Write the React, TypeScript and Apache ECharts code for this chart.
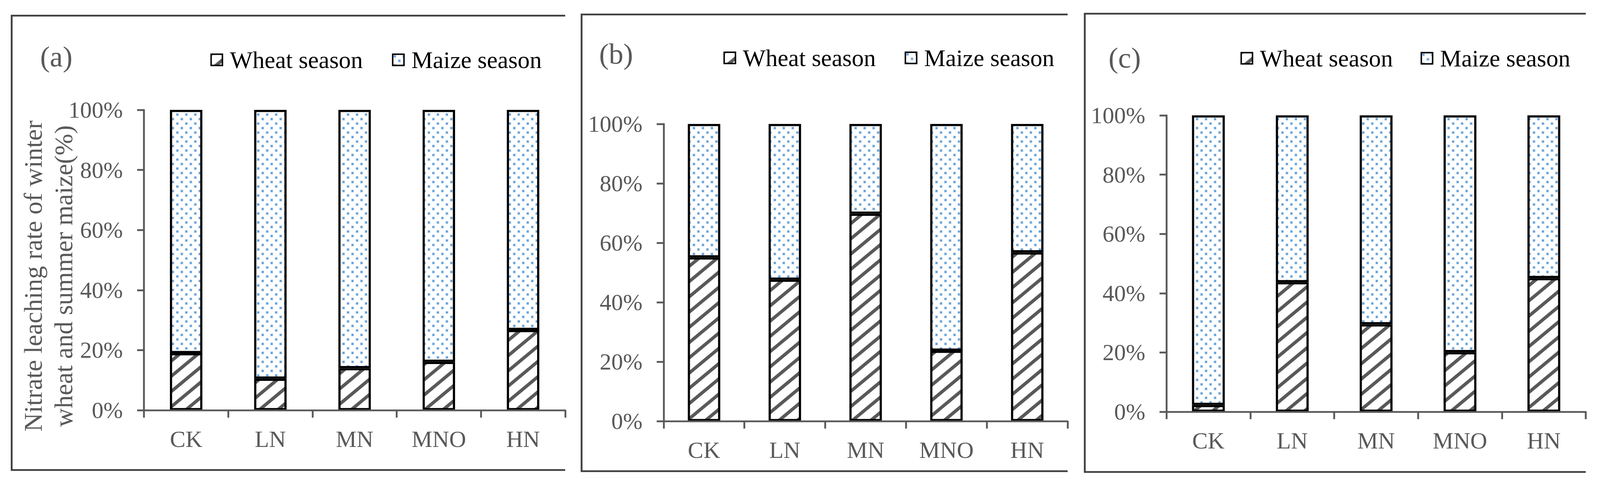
import React, { useEffect, useRef } from 'react';
import * as echarts from 'echarts';

// ---- data ----
const categories = ['CK', 'LN', 'MN', 'MNO', 'HN'];
const wheatA = [19.0, 10.5, 14.0, 16.1, 26.7];
const maizeA = [81.0, 89.5, 86.0, 83.9, 73.3];
const wheatB = [55.1, 47.6, 69.8, 23.7, 56.8];
const maizeB = [44.9, 52.4, 30.2, 76.3, 43.2];
const wheatC = [2.3, 43.7, 29.5, 20.1, 45.1];
const maizeC = [97.7, 56.3, 70.5, 79.9, 54.9];
const seriesNames = ['Wheat season', 'Maize season'];
const panelTags = ['(a)', '(b)', '(c)'];
const yTitleLines = ['Nitrate leaching rate of winter', 'wheat and summer maize(%)'];

const FONT = "'Liberation Serif', 'Times New Roman', Times, serif";
const GRAY = '#595959';
const FRAME = '#404040';
const REF_W = 4388;
const REF_H = 1248;

function makeStripe(s: number) {
  const W = Math.max(4, Math.round(50 * s));
  const H = Math.max(4, Math.round(42 * s));
  const c = document.createElement('canvas');
  c.width = W;
  c.height = H;
  const ctx = c.getContext('2d')!;
  ctx.fillStyle = '#ffffff';
  ctx.fillRect(0, 0, W, H);
  ctx.strokeStyle = GRAY;
  ctx.lineWidth = 9 * s;
  for (let n = 0; n <= 2; n++) {
    ctx.beginPath();
    ctx.moveTo(-W, H * (n + 1));
    ctx.lineTo(2 * W, H * (n - 2));
    ctx.stroke();
  }
  return { image: c, repeat: 'repeat', imageWidth: W, imageHeight: H };
}

function makeDots(s: number) {
  const S = Math.max(4, Math.round(25 * s));
  const c = document.createElement('canvas');
  c.width = S;
  c.height = S;
  const ctx = c.getContext('2d')!;
  ctx.fillStyle = '#ffffff';
  ctx.fillRect(0, 0, S, S);
  const pts = [
    [S * 0.24, S * 0.24],
    [S * 0.74, S * 0.74],
  ];
  for (const [x, y] of pts) {
    ctx.fillStyle = 'rgba(91,155,213,0.35)';
    ctx.fillRect(x - 4 * s, y - 4 * s, 8 * s, 8 * s);
    ctx.fillStyle = '#5b9bd5';
    ctx.fillRect(x - 2.5 * s, y - 2.5 * s, 5 * s, 5 * s);
  }
  return { image: c, repeat: 'repeat', imageWidth: S, imageHeight: S };
}

const panels = [
  {
    grid: { left: 395, top: 281, width: 1155, height: 768 },
    barWidth: 89,
    wheat: wheatA,
    maize: maizeA,
    legendLeft: 577,
    legendTop: 122,
    itemGap: 80,
    tag: { x: 110, y: 144 },
    frame: { l: 32, t: 40, r: 1550, b: 1202 },
  },
  {
    grid: { left: 1820, top: 317, width: 1108, height: 760 },
    barWidth: 89,
    wheat: wheatB,
    maize: maizeB,
    legendLeft: 1984,
    legendTop: 117,
    itemGap: 79,
    tag: { x: 1643, y: 137 },
    frame: { l: 1595, t: 37, r: 2928, b: 1205 },
  },
  {
    grid: { left: 3199, top: 295, width: 1150, height: 758 },
    barWidth: 90,
    wheat: wheatC,
    maize: maizeC,
    legendLeft: 3402,
    legendTop: 118,
    itemGap: 76,
    tag: { x: 3040, y: 147 },
    frame: { l: 2975, t: 35, r: 4349, b: 1207 },
  },
];

export default function App() {
  const ref = useRef<HTMLDivElement>(null);
  useEffect(() => {
    if (!ref.current) return;
    document.body.style.margin = '0';
    document.body.style.overflow = 'hidden';
    const el = ref.current;
    const vw = el.clientWidth || window.innerWidth || REF_W;
    const vh = el.clientHeight || window.innerHeight || REF_H;
    const sx = vw / REF_W;
    const sy = vh / REF_H;
    const sf = Math.min(sx, sy);
    const X = (v: number) => v * sx;
    const Y = (v: number) => v * sy;
    const F = (v: number) => v * sf;

    const chart = echarts.init(el, undefined, { renderer: 'svg', width: vw, height: vh });
    const stripe = makeStripe(sf);
    const dots = makeDots(sf);

    const grid: any[] = [];
    const xAxis: any[] = [];
    const yAxis: any[] = [];
    const series: any[] = [];
    const legend: any[] = [];
    const graphic: any[] = [];

    panels.forEach((p, i) => {
      grid.push({
        left: X(p.grid.left),
        top: Y(p.grid.top),
        width: X(p.grid.width),
        height: Y(p.grid.height),
        containLabel: false,
      });
      xAxis.push({
        type: 'category',
        gridIndex: i,
        data: categories,
        z: 10,
        axisLine: { show: true, lineStyle: { color: GRAY, width: F(5) } },
        axisTick: { show: true, length: Y(19), lineStyle: { color: GRAY, width: F(5) } },
        axisLabel: { color: GRAY, fontSize: F(64), fontFamily: FONT, margin: Y(44) },
        splitLine: { show: false },
      });
      yAxis.push({
        type: 'value',
        gridIndex: i,
        min: 0,
        max: 100,
        interval: 20,
        z: 10,
        axisLine: { show: true, lineStyle: { color: GRAY, width: F(5) } },
        axisTick: { show: true, length: X(19), lineStyle: { color: GRAY, width: F(5) } },
        axisLabel: { color: GRAY, fontSize: F(64), fontFamily: FONT, margin: X(58), formatter: '{value}%' },
        splitLine: { show: false },
      });
      series.push({
        type: 'bar',
        name: seriesNames[0],
        xAxisIndex: i,
        yAxisIndex: i,
        stack: 'stack' + i,
        barWidth: X(p.barWidth),
        data: p.wheat,
        silent: true,
        itemStyle: { color: stripe, borderColor: '#000', borderWidth: F(6) },
      });
      series.push({
        type: 'bar',
        name: seriesNames[1],
        xAxisIndex: i,
        yAxisIndex: i,
        stack: 'stack' + i,
        barWidth: X(p.barWidth),
        data: p.maize,
        silent: true,
        itemStyle: { color: dots, borderColor: '#000', borderWidth: F(6) },
      });
      legend.push({
        data: seriesNames,
        left: X(p.legendLeft),
        top: Y(p.legendTop),
        padding: 0,
        orient: 'horizontal',
        itemWidth: F(31),
        itemHeight: F(31),
        itemGap: X(p.itemGap),
        icon: 'rect',
        selectedMode: false,
        itemStyle: { borderColor: '#000', borderWidth: F(4) },
        textStyle: { fontFamily: FONT, fontSize: F(66), color: '#000', padding: [0, 0, 0, X(15)] },
      });
      const f = p.frame;
      graphic.push({
        type: 'polyline',
        silent: true,
        shape: {
          points: [
            [X(f.r), Y(f.t)],
            [X(f.l), Y(f.t)],
            [X(f.l), Y(f.b)],
            [X(f.r), Y(f.b)],
          ],
        },
        style: { stroke: FRAME, lineWidth: F(5), fill: null },
      });
      graphic.push({
        type: 'text',
        silent: true,
        x: X(p.tag.x),
        y: Y(p.tag.y),
        style: {
          text: panelTags[i],
          fontSize: F(80),
          fontFamily: FONT,
          fill: GRAY,
          align: 'left',
          verticalAlign: 'middle',
          textAlign: 'left',
          textVerticalAlign: 'middle',
        },
      });
    });

    // rotated y-axis title: its length runs vertically, so size it by the vertical scale
    graphic.push({
      type: 'text',
      silent: true,
      x: X(132),
      y: Y(706),
      rotation: Math.PI / 2,
      style: {
        text: yTitleLines.join('\n'),
        fontSize: 66 * sy,
        lineHeight: 84 * sx,
        fontFamily: FONT,
        fill: GRAY,
        align: 'center',
        verticalAlign: 'middle',
        textAlign: 'center',
        textVerticalAlign: 'middle',
      },
    });

    chart.setOption({
      animation: false,
      backgroundColor: '#ffffff',
      tooltip: { show: false },
      grid,
      xAxis,
      yAxis,
      legend,
      series,
      graphic,
    });
    return () => {
      chart.dispose();
    };
  }, []);

  return (
    <div
      ref={ref}
      style={{ position: 'fixed', left: 0, top: 0, width: '100vw', height: '100vh', background: '#ffffff' }}
    />
  );
}
